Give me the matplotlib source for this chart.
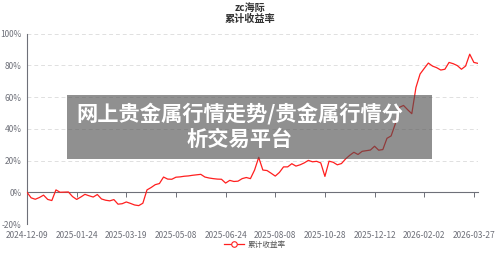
import matplotlib
matplotlib.use("Agg")
import matplotlib.pyplot as plt
from matplotlib.lines import Line2D
from matplotlib.patches import Rectangle
import numpy as np

plt.rcParams['font.family'] = ['Noto Sans CJK SC', 'DejaVu Sans']

title = "zc海际"
subtitle = "累计收益率"
series_name = "累计收益率"
overlay = "网上贵金属行情走势/贵金属行情分\n析交易平台"

tick_labels = ["2024-12-09", "2025-01-24", "2025-03-19", "2025-05-08", "2025-06-24",
               "2025-08-08", "2025-10-28", "2025-12-12", "2026-02-02", "2026-03-27"]
tick_step = 12

# cumulative return in %
returns = [
    0.0, -3.5, -4.4, -3.3, -1.8, -4.5, -5.2, 1.5, 0.0, 0.1,
    0.2, -2.7, -4.5, -3.0, -1.3, -2.2, -3.0, -1.4, -4.2, -5.0,
    -5.4, -4.6, -7.5, -7.2, -6.1, -7.0, -8.0, -8.4, -6.9, 1.5,
    3.0, 4.8, 5.5, 9.6, 8.3, 8.2, 9.5, 9.7, 10.1, 10.3,
    10.7, 11.0, 11.3, 9.6, 9.0, 8.6, 8.3, 8.2, 5.8, 7.5,
    6.8, 7.0, 8.6, 9.3, 8.6, 14.0, 22.0, 14.0, 13.7, 12.0,
    10.2, 12.5, 16.0, 16.0, 18.0, 16.5, 17.3, 18.5, 20.1, 19.2,
    19.5, 18.5, 10.0, 19.6, 18.9, 17.3, 18.1, 21.0, 23.3, 25.2,
    23.8, 25.8, 26.2, 26.6, 29.0, 26.5, 26.9, 34.0, 35.5, 43.0,
    53.5, 54.7, 52.0, 49.5, 66.0, 74.5, 78.0, 81.4, 79.5, 78.5,
    77.0, 77.5, 81.8, 81.0, 79.8, 77.5, 79.5, 87.0, 81.8, 81.2,
]

x = np.arange(len(returns))
red = '#ff1f1f'
axis_gray = '#6e7079'

fig = plt.figure(figsize=(5, 2.54), dpi=100)
ax = fig.add_axes([0.054, 0.118, 0.902, 0.750])

ax.plot(x, returns, color=red, lw=0.9, zorder=3)

ax.set_xlim(0, len(returns) - 1)
ax.set_ylim(-20, 100)
ax.set_yticks([-20, 0, 20, 40, 60, 80, 100])
ax.set_yticklabels([f"{v}%" for v in [-20, 0, 20, 40, 60, 80, 100]])
ax.tick_params(axis='y', length=0, pad=4, labelsize=6, labelcolor=axis_gray)
for v in [-20, 20, 40, 60, 80, 100]:
    ax.axhline(v, color='#e0e0e0', lw=0.7, ls=(0, (4, 3)), zorder=1)

for s in ['top', 'right']:
    ax.spines[s].set_visible(False)
ax.spines['left'].set_color(axis_gray)
ax.spines['left'].set_linewidth(0.8)
ax.spines['bottom'].set_position(('data', 0))
ax.spines['bottom'].set_color(axis_gray)
ax.spines['bottom'].set_linewidth(0.8)

ticks = list(range(0, len(returns), tick_step))
ax.set_xticks(ticks)
ax.tick_params(axis='x', length=3.5, width=0.7, color=axis_gray, labelbottom=False)

sec = ax.secondary_xaxis(0.0)
sec.set_xticks(ticks)
sec.set_xticklabels(tick_labels)
sec.tick_params(length=0, pad=5, labelsize=6, labelcolor=axis_gray)
sec.spines['bottom'].set_visible(False)

fig.text(0.5, 0.967, title, ha='center', va='center', fontsize=7.3,
         fontweight='bold', color='#333333')
fig.text(0.5, 0.926, subtitle, ha='center', va='center', fontsize=7.3,
         fontweight='bold', color='#333333')

handle = Line2D([], [], color=red, lw=0.9, marker='o', markersize=4,
                markerfacecolor='white', markeredgecolor=red, markeredgewidth=0.8)
fig.legend([handle], [series_name], loc='center', bbox_to_anchor=(0.51, 0.035),
           frameon=False, fontsize=5.5, labelcolor='#555555', handlelength=2.6,
           handletextpad=0.5)

# grey overlay banner
fig.patches.append(Rectangle((0.133, 1 - 158.5 / 254), 0.731, 63.5 / 254,
                             transform=fig.transFigure, facecolor='#4d4d4d',
                             alpha=0.62, zorder=5))
fig.text(0.48, 1 - 126 / 254, overlay, ha='center', va='center', fontsize=15.3,
         fontweight='bold', color='white', linespacing=1.25, zorder=6)

fig.savefig("out.png", dpi=100)
